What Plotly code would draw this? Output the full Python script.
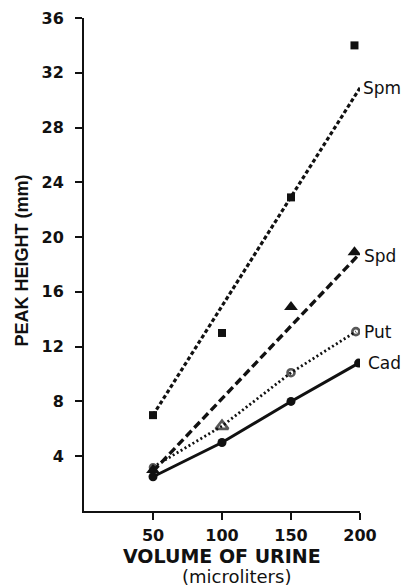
import plotly.graph_objects as go

# ---- data ----
volume = [50, 100, 150, 200]

spm_x = [50, 100, 150, 196]
spm_y = [7.0, 13.0, 22.9, 34.0]
spm_fit_x = [50, 200]
spm_fit_y = [7.0, 30.9]

spd_x = [50, 150, 196]
spd_y = [3.0, 14.9, 18.9]
spd_fit_x = [50, 198]
spd_fit_y = [2.9, 18.6]

put_x = [50, 100, 150, 197]
put_y = [3.2, 6.2, 10.1, 13.1]
put_symbols = ["circle-open", "triangle-up-open", "circle-open", "circle-open"]

cad_x = [50, 100, 150, 199]
cad_y = [2.5, 5.0, 8.0, 10.8]

y_ticks = [4, 8, 12, 16, 20, 24, 28, 32, 36]
x_ticks = [50, 100, 150, 200]

series_labels = ["Spm", "Spd", "Put", "Cad"]

FONT = "DejaVu Sans"
BLACK = "#111111"

fig = go.Figure()

# Spm: fitted short-dash line + filled squares
fig.add_trace(go.Scatter(x=spm_fit_x, y=spm_fit_y, mode="lines",
                         line=dict(color=BLACK, width=3.2, dash="4px,2.5px"),
                         hoverinfo="skip", showlegend=False))
fig.add_trace(go.Scatter(x=spm_x, y=spm_y, mode="markers",
                         marker=dict(symbol="square", size=8, color=BLACK),
                         showlegend=False, name="Spm"))

# Spd: fitted long-dash line + filled triangles
fig.add_trace(go.Scatter(x=spd_fit_x, y=spd_fit_y, mode="lines",
                         line=dict(color=BLACK, width=3.4, dash="8px,4px"),
                         hoverinfo="skip", showlegend=False))
fig.add_trace(go.Scatter(x=spd_x, y=spd_y, mode="markers",
                         marker=dict(symbol="triangle-up", size=12, color=BLACK),
                         showlegend=False, name="Spd"))

# Put: dotted polyline, open markers
fig.add_trace(go.Scatter(x=put_x, y=put_y, mode="lines",
                         line=dict(color=BLACK, width=2.8, dash="2px,2.6px"),
                         hoverinfo="skip", showlegend=False))
fig.add_trace(go.Scatter(x=put_x, y=put_y, mode="markers",
                         marker=dict(symbol=put_symbols, size=[6, 11, 7, 7],
                                     color=BLACK,
                                     line=dict(color=BLACK, width=2.6)),
                         showlegend=False, name="Put"))

# Cad: solid polyline, filled circles
fig.add_trace(go.Scatter(x=cad_x, y=cad_y, mode="lines+markers",
                         line=dict(color=BLACK, width=3),
                         marker=dict(symbol="circle", size=9, color=BLACK),
                         showlegend=False, name="Cad"))

label_pos = [(spm_fit_x[-1], spm_fit_y[-1], 1),
             (spd_fit_x[-1], spd_fit_y[-1], 5),
             (put_x[-1], put_y[-1], 6),
             (cad_x[-1], cad_y[-1], 7)]
for text, (x, y, xs) in zip(series_labels, label_pos):
    fig.add_annotation(x=x, y=y, text=text, showarrow=False,
                       xanchor="left", yanchor="middle", xshift=xs,
                       font=dict(family=FONT, size=17, color=BLACK))

# axis titles as annotations for exact placement
fig.add_annotation(xref="paper", yref="paper", x=0, y=0.5, textangle=-90,
                   text="PEAK HEIGHT (mm)", showarrow=False,
                   xanchor="center", yanchor="middle", xshift=-63, yshift=4,
                   font=dict(family="Liberation Sans", size=18, color=BLACK,
                             weight="bold"))
fig.add_annotation(xref="paper", yref="paper", x=0.5, y=0,
                   text="VOLUME OF URINE", showarrow=False,
                   xanchor="center", yanchor="middle", yshift=-45,
                   font=dict(family=FONT, size=19, color=BLACK, weight="bold"))
fig.add_annotation(xref="paper", yref="paper", x=0.5, y=0,
                   text="(microliters)", showarrow=False,
                   xanchor="center", yanchor="middle", yshift=-65, xshift=14,
                   font=dict(family=FONT, size=18, color=BLACK))

fig.update_layout(
    width=402, height=587,
    margin=dict(l=84, r=42, t=18, b=76, autoexpand=False),
    paper_bgcolor="white", plot_bgcolor="white",
    font=dict(family=FONT, size=14, color=BLACK),
)
fig.update_xaxes(range=[0, 200], tickvals=x_ticks, ticktext=[str(v) for v in x_ticks],
                 showgrid=False, zeroline=False, showline=True,
                 linecolor=BLACK, linewidth=2, ticks="outside", ticklen=7,
                 tickwidth=2, tickcolor=BLACK, ticklabelstandoff=2,
                 tickfont=dict(family=FONT, size=16, color=BLACK, weight="bold"))
fig.update_yaxes(range=[0, 36], tickvals=y_ticks, ticktext=[str(v) for v in y_ticks],
                 showgrid=False, zeroline=False, showline=True,
                 linecolor=BLACK, linewidth=2, ticks="outside", ticklen=7,
                 tickwidth=2, tickcolor=BLACK, ticklabelstandoff=8,
                 tickfont=dict(family=FONT, size=16, color=BLACK, weight="bold"))

fig.write_html(
    "out.html",
    config={"displayModeBar": False},
    post_script="document.body.style.margin='0';"
                "document.body.style.overflow='hidden';",
)
